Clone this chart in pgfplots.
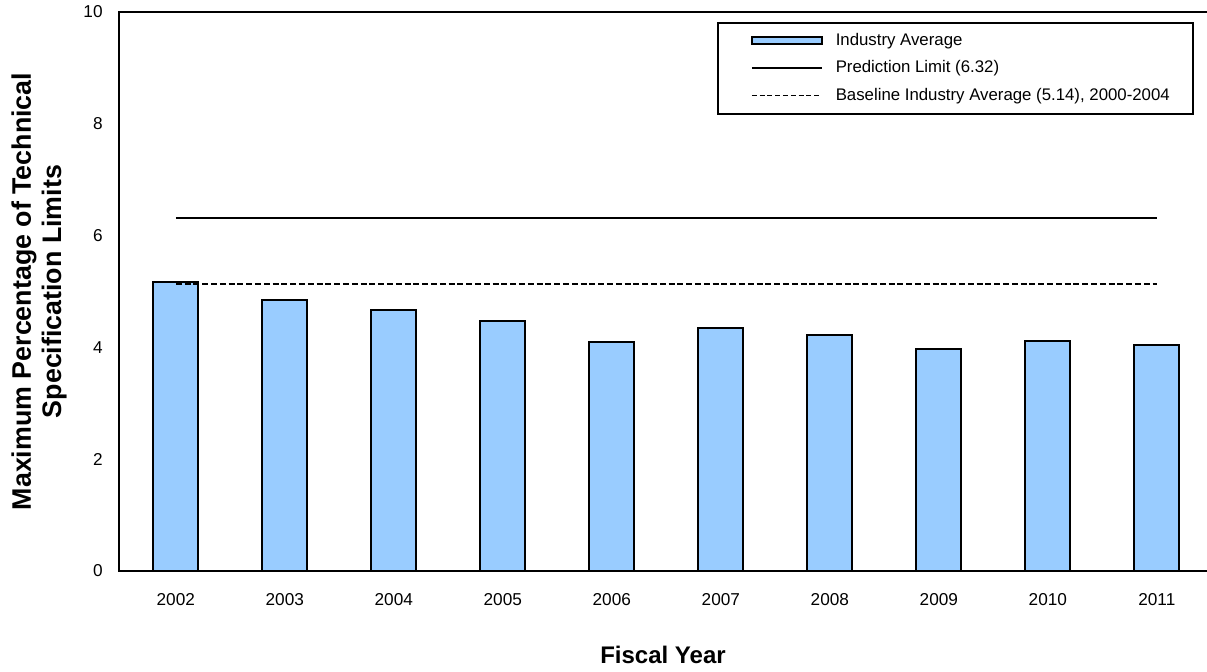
\documentclass[border=0pt]{standalone}
\usepackage{fontspec}
\setmainfont{Liberation Sans}
\usepackage{pgfplots}
\pgfplotsset{compat=1.18}
\definecolor{barblue}{RGB}{153,204,255}

\begin{document}
\begin{tikzpicture}
\begin{axis}[
  at={(0,0)}, anchor=south west,
  scale only axis,
  width=544pt, height=279.5pt,
  xmin=-0.521, xmax=9.46,
  ymin=0, ymax=10,
  ytick={0,2,4,6,8,10},
  xtick={0,1,2,3,4,5,6,7,8,9},
  xticklabels={2002,2003,2004,2005,2006,2007,2008,2009,2010,2011},
  major tick length=0pt,
  axis line style={draw=none},
  clip=false,
  /pgf/number format/assume math mode=true,
  tick label style={font=\fontsize{8.6}{10}\selectfont, inner sep=0pt},
  xticklabel style={yshift=-11pt},
  yticklabel style={xshift=-8pt},
  xlabel={Fiscal Year},
  xlabel style={font=\bfseries\fontsize{12}{14}\selectfont, at={(axis description cs:0.5,-0.1503)}, anchor=center},
  ylabel={Maximum Percentage of Technical\\Specification Limits},
  ylabel style={font=\bfseries\fontsize{13.4}{15.2}\selectfont, align=center, at={(axis description cs:-0.0735,0.5)}, anchor=center},
  legend style={at={(0.5496,0.9821)}, anchor=north west, draw=black, line width=0.8pt, fill=white,
    font=\fontsize{8.4}{10}\selectfont, inner xsep=11.5pt, inner ysep=5pt, row sep=5.75pt, column sep=6.5pt,
    nodes={inner sep=0pt, text height=6.2pt, text depth=1.8pt, anchor=west}},
  legend cell align=left,
]
\addplot[ybar, bar width=22.5pt, fill=barblue, draw=black, line width=1pt,
  legend image code/.code={\path (0pt,0pt) (40pt,0pt); \draw[fill=barblue, draw=black, line width=1pt] (5pt,-1.8pt) rectangle (40pt,1.8pt);}]
  coordinates {(0,5.17) (1,4.84) (2,4.66) (3,4.47) (4,4.10) (5,4.35) (6,4.23) (7,3.98) (8,4.12) (9,4.05)};
\addlegendentry{Industry Average}
\addplot[black, line width=1pt, mark=none,
  legend image code/.code={\path (0pt,0pt) (40pt,0pt); \draw[black, line width=0.8pt] (5pt,0pt) -- (40pt,0pt);}]
  coordinates {(0,6.32) (9,6.32)};
\addlegendentry{Prediction Limit (6.32)}
\addplot[black, line width=1pt, mark=none, dash pattern=on 3pt off 1.4pt,
  legend image code/.code={\path (0pt,0pt) (40pt,0pt); \draw[black, line width=0.7pt, dash pattern=on 2.5pt off 1.4pt] (5pt,0pt) -- (40pt,0pt);}]
  coordinates {(0,5.14) (9,5.14)};
\addlegendentry{Baseline Industry Average (5.14), 2000-2004}
\draw[line width=1.1pt] (rel axis cs:1,1) -- (rel axis cs:0,1) -- (rel axis cs:0,0) -- (rel axis cs:1,0);
\end{axis}
\pgfresetboundingbox
\path[use as bounding box] (-59.5pt,-50.5pt) rectangle (544pt,285.5pt);
\end{tikzpicture}
\end{document}
